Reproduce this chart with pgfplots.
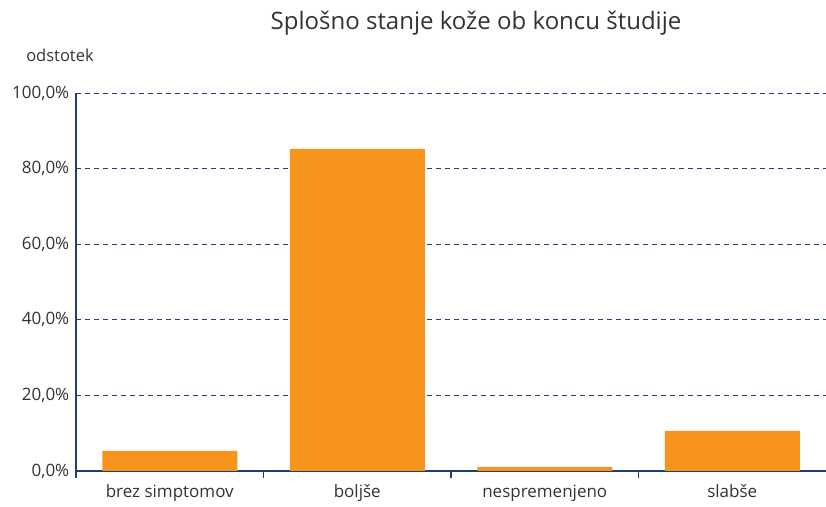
\documentclass[border=0pt]{standalone}
\usepackage{pgfplots}
\pgfplotsset{compat=1.18}
\usepackage{fontspec}
\setmainfont{Open Sans}
\definecolor{barorange}{HTML}{F7941D}
\definecolor{axblue}{HTML}{1F3F73}
\definecolor{txt}{HTML}{333333}
\begin{document}
\begin{tikzpicture}[x=1bp,y=1bp]
\useasboundingbox (-76,-36) rectangle (750,471);
\begin{axis}[
  at={(0,0)}, anchor=south west,
  scale only axis, width=750bp, height=378bp,
  xmin=-0.5, xmax=3.5, ymin=0, ymax=100,
  axis lines=left, axis line style={axblue, line width=1.1pt, -},
  xtick={0,1,2,3},
  xticklabels={brez simptomov, boljše, nespremenjeno, slabše},
  major x tick style={draw=none},
  minor xtick={-0.5,0.5,1.5,2.5},
  minor x tick style={axblue, line width=1.1pt},
  minor tick length=7bp,
  tick align=outside,
  ytick={0,20,40,60,80,100},
  major y tick style={draw=none},
  ymajorgrids, grid style={axblue, dashed, line width=0.9pt, dash pattern=on 5bp off 4bp},
  yticklabel={\pgfmathprintnumber[fixed,fixed zerofill,precision=1,use comma]{\tick}\%},
  /pgf/number format/assume math mode=true,
  ticklabel style={font=\fontsize{17bp}{19bp}\selectfont, text=txt},
  xticklabel style={yshift=-6bp},
  yticklabel style={xshift=1bp},
  clip=false,
]
\addplot[ybar, bar width=0.72, fill=barorange, draw=none, bar shift=0pt]
 coordinates {(0,5.3) (1,85.2) (2,1.1) (3,10.6)};
\end{axis}
\node[font=\fontsize{24bp}{28bp}\selectfont, text=txt] at (400,448) {Splošno stanje kože ob koncu študije};
\node[font=\fontsize{16.5bp}{19bp}\selectfont, text=txt] at (-16,416) {odstotek};
\end{tikzpicture}
\end{document}
